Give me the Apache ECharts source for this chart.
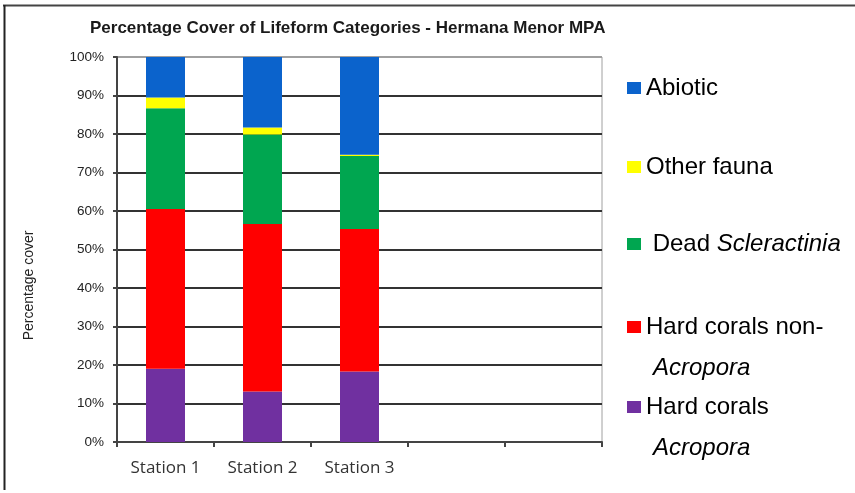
<!DOCTYPE html>
<html>
<head>
<meta charset="utf-8">
<script src="https://cdn.jsdelivr.net/npm/echarts@6/dist/echarts.min.js"></script>
<style>
html,body{margin:0;padding:0;background:#fff;}
#chart{width:855px;height:493px;}
</style>
</head>
<body>
<div id="chart"></div>
<script>
// ---- data ----
var categories = ['Station 1', 'Station 2', 'Station 3', '', ''];
var hardAcropora = [19.0, 13.1, 18.3];
var hardNonAcropora = [41.5, 43.5, 37.0];
var deadScleractinia = [26.2, 23.3, 19.0];
var otherFauna = [2.8, 1.8, 0.3];
var abiotic = [10.5, 18.3, 25.4];
var yTicks = [0, 10, 20, 30, 40, 50, 60, 70, 80, 90, 100];

var seriesNames = ['Hard corals Acropora', 'Hard corals non-Acropora', 'Dead Scleractinia', 'Other fauna', 'Abiotic'];
var seriesData = [hardAcropora, hardNonAcropora, deadScleractinia, otherFauna, abiotic];
var colors = ['#7030A0', '#FF0000', '#00A650', '#FFFF00', '#0B63CC'];

var chart = echarts.init(document.getElementById('chart'));

var series = seriesNames.map(function (n, i) {
  return {
    name: n,
    type: 'bar',
    stack: 'total',
    barWidth: 39,
    data: seriesData[i],
    itemStyle: { color: colors[i] },
    emphasis: { disabled: true }
  };
});

var legendText = {
  'Abiotic': '{n|Abiotic}',
  'Other fauna': '{n|Other fauna}',
  'Dead Scleractinia': '{n| Dead }{i|Scleractinia}',
  'Hard corals non-Acropora': '{b| }\n{n|Hard corals non-}\n{i2|Acropora}',
  'Hard corals Acropora': '{b| }\n{n|Hard corals}\n{i2|Acropora}'
};
var legendCenters = {
  'Abiotic': 88, 'Other fauna': 167, 'Dead Scleractinia': 244,
  'Hard corals non-Acropora': 327, 'Hard corals Acropora': 407
};
var multi = { 'Hard corals non-Acropora': true, 'Hard corals Acropora': true };
var FS = 24;
var richStyles = {
  n: { fontFamily: 'Liberation Sans, Arial, sans-serif', fontSize: FS, color: '#000', lineHeight: 41 },
  i: { fontFamily: 'Liberation Sans, Arial, sans-serif', fontSize: FS, fontStyle: 'italic', color: '#000', lineHeight: 41 },
  i2: { fontFamily: 'Liberation Sans, Arial, sans-serif', fontSize: FS, fontStyle: 'italic', color: '#000', lineHeight: 41, padding: [0, 0, 0, 7] },
  b: { fontSize: FS, lineHeight: 41 }
};
var legends = ['Abiotic', 'Other fauna', 'Dead Scleractinia', 'Hard corals non-Acropora', 'Hard corals Acropora'].map(function (n) {
  var h = multi[n] ? 123 : 41;
  return {
    data: [n],
    left: 627,
    top: legendCenters[n] - h / 2,
    padding: 0,
    itemWidth: 14,
    itemHeight: 12,
    icon: 'rect',
    selectedMode: false,
    formatter: function (name) { return legendText[name]; },
    textStyle: { rich: richStyles, lineHeight: 41 }
  };
});

var splitColors = yTicks.map(function (v) { return v === 100 ? '#a0a0a0' : '#333333'; });

chart.setOption({
  animation: false,
  backgroundColor: '#fff',
  title: {
    text: 'Percentage Cover of Lifeform Categories - Hermana Menor MPA',
    left: 90,
    top: 20,
    padding: 0,
    textStyle: { fontFamily: 'Liberation Sans, Arial, sans-serif', fontSize: 17, fontWeight: 'bold', color: '#1a1a1a' }
  },
  legend: legends,
  grid: { left: 117, right: 253, top: 57, bottom: 51, show: true, borderColor: '#a0a0a0', borderWidth: 1 },
  xAxis: {
    type: 'category',
    data: categories,
    axisLine: { lineStyle: { color: '#444', width: 2 } },
    axisTick: { show: true, alignWithLabel: false, interval: 0, length: 5, lineStyle: { color: '#444', width: 2 } },
    axisLabel: { interval: 0, margin: 18, fontFamily: 'Open Sans, sans-serif', fontSize: 17, color: '#333' },
    splitLine: { show: false }
  },
  yAxis: {
    type: 'value',
    min: 0, max: 100, interval: 10,
    name: 'Percentage cover',
    nameLocation: 'middle',
    nameRotate: 90,
    nameGap: 81,
    nameTextStyle: { fontFamily: 'Liberation Sans, Arial, sans-serif', fontSize: 14, color: '#222', padding: [0, 72, 0, 0] },
    axisLine: { show: true, lineStyle: { color: '#444', width: 2 } },
    axisTick: { show: true, length: 4, lineStyle: { color: '#444', width: 2 } },
    axisLabel: { formatter: '{value}%', margin: 13, fontFamily: 'Liberation Sans, Arial, sans-serif', fontSize: 13.5, color: '#222' },
    splitLine: { show: true, lineStyle: { color: splitColors, width: 2 } }
  },
  graphic: [
    { type: 'line', shape: { x1: 3, y1: 5.5, x2: 855, y2: 5.5 }, style: { stroke: '#444', lineWidth: 2 }, silent: true },
    { type: 'line', shape: { x1: 4.5, y1: 5, x2: 4.5, y2: 490 }, style: { stroke: '#222', lineWidth: 2 }, silent: true }
  ],
  series: series
});
</script>
</body>
</html>
